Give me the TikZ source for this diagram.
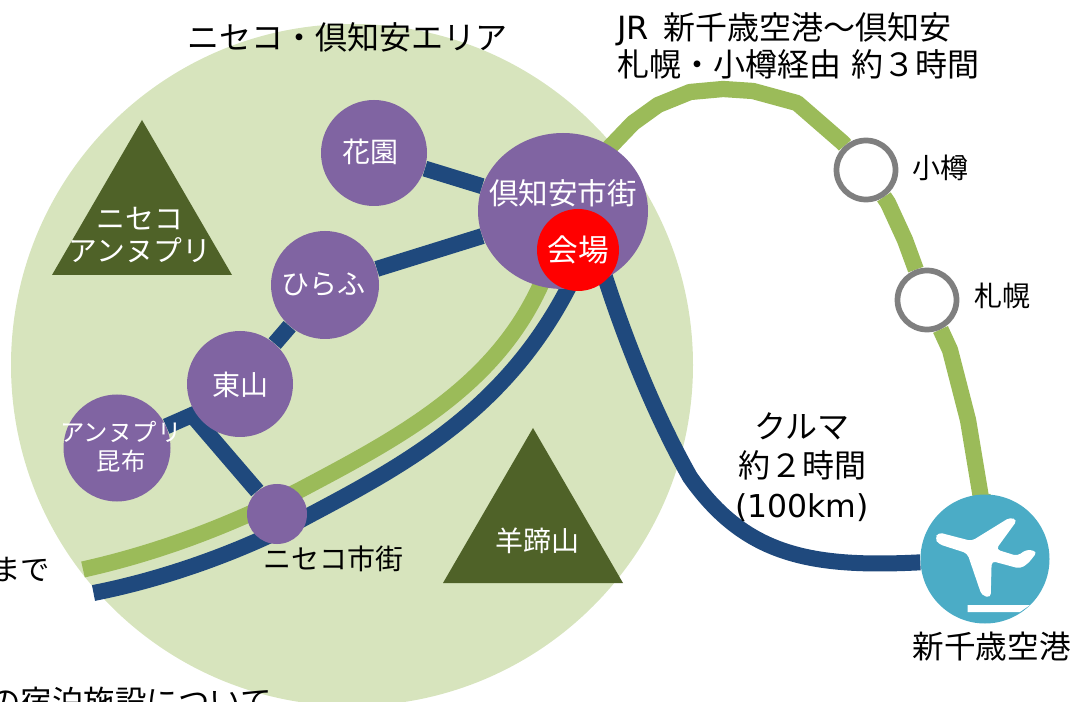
\documentclass[tikz,border=0pt]{standalone}
\usepackage{fontspec}
\usetikzlibrary{shapes.geometric}
\setmainfont{Noto Sans CJK JP}
\newfontfamily\latf{DejaVu Sans}
\newcommand{\fs}[2]{\fontsize{#1}{#2}\selectfont}
\definecolor{areagreen}{HTML}{D7E4BD}
\definecolor{railgreen}{HTML}{9BBB59}
\definecolor{roadblue}{HTML}{1F497D}
\definecolor{townpurple}{HTML}{8064A2}
\definecolor{mountgreen}{HTML}{4F6228}
\definecolor{airblue}{HTML}{4BACC6}
\definecolor{stationgray}{HTML}{7F7F7F}
\pgfdeclarelayer{backl}
\pgfdeclarelayer{linesl}
\pgfsetlayers{backl,linesl,main}
\tikzset{
  town/.style={circle,fill=townpurple,inner sep=0pt,minimum size=#1*0.75pt},
  townlabel/.style={text=white,inner sep=0pt,align=center,font=\fs{21}{26}},
  venue/.style={circle,fill=red,text=white,inner sep=0pt,minimum size=82*0.75pt,font=\fs{23}{27}},
  station/.style={circle,draw=stationgray,line width=4.3pt,fill=white,inner sep=0pt,minimum size=59*0.75pt},
  rail/.style={draw=railgreen,line width=12.2pt,line join=round},
  road/.style={draw=roadblue,line width=12pt},
  label/.style={text=black,inner sep=0pt,align=center,font=\fs{21}{26}},
  mount/.style={fill=mountgreen,draw=none},
  mtext/.style={text=white,inner sep=0pt,align=center,font=\fs{21.6}{24.5}},
}
\begin{document}
\begin{tikzpicture}[x=0.75pt,y=-0.75pt]
\useasboundingbox (0,0) rectangle (1072,702);
\begin{pgfonlayer}{backl}
\clip (0,0) rectangle (1072,702);
\fill[areagreen] (352,365) circle[radius=341*0.75pt];
\end{pgfonlayer}
% mountains
\fill[mount] (142,120) -- (232,275) -- (52,275) -- cycle;
\fill[mount] (533,428) -- (623,583) -- (443,583) -- cycle;
\node[mtext] (mtA) at (140,235) {ニセコ\\アンヌプリ};
\node[mtext,font=\fs{21}{26}] (mtY) at (537,541) {羊蹄山};
% towns
\node[ellipse,fill=townpurple,inner sep=0pt,minimum width=170*0.75pt,minimum height=156*0.75pt] (kutchan) at (563,211) {};
\node[townlabel,font=\fs{22.2}{26}] (kutchant) at (563,193) {倶知安市街};
\node[venue] (venue) at (578,250) {会場};
\node[town=106] (hanazono) at (374,153) {};
\node[townlabel] (hanazonot) at (370,152) {花園};
\node[town=108] (hirafu) at (325,285) {};
\node[townlabel] (hirafut) at (323,284) {ひらふ};
\node[town=106] (higashiyama) at (240,384) {};
\node[townlabel] (higashiyamat) at (240,385) {東山};
\node[town=107] (konbu) at (117,448) {};
\node[townlabel,font=\fs{18.3}{22}] (konbut) at (121,447) {アンヌプリ\\昆布};
\node[town=60] (niseko) at (277,514) {};
\node[station] (otaru) at (866,170) {};
\node[station] (sapporo) at (927,300) {};
\node[circle,fill=airblue,inner sep=0pt,minimum size=129*0.75pt] (airport) at (985,559) {};
% airplane
\begin{scope}[shift={(880,470)},x=0.25pt,y=-0.25pt]
\fill[white,rounded corners=3pt] (165,205) -- (175,187) -- (275,213) -- (390,142) -- (412,150) -- (348,238) -- (412,258) -- (440,238) -- (472,245) -- (445,280) -- (420,296) -- (335,273) -- (332,383) -- (305,376) -- (262,250) -- (175,222) -- cycle;
\fill[white] (263,405) -- (450,405) -- (420,426) -- (263,426) -- cycle;
\end{scope}
% connectors
\begin{pgfonlayer}{linesl}
\coordinate (railend) at (83,569.5);
\coordinate (roadend) at (93.5,593);
\coordinate (railin) at (545,275);
\coordinate (roadin) at (578,268);
\coordinate (railmid) at (300,490);
\coordinate (roadmid) at (310,515);
\coordinate (venueroad) at (595,245);
\coordinate (roadbend) at (690,477);
\coordinate (junction) at (192,415);
\draw[road] (hanazono) -- (kutchan);
\draw[road] (hirafu) -- (kutchan);
\draw[road] (hirafu) -- (higashiyama);
\draw[road] (konbu) -- (junction) -- (niseko);
\draw[rail] (railend) .. controls (170,550) and (240,520) .. (railmid) .. controls (400,437) and (500,385) .. (railin);
\draw[road] (roadend) .. controls (170,578) and (250,548) .. (roadmid) .. controls (410,462) and (515,405) .. (roadin);
\draw[road] (venueroad) .. controls (622,335) and (655,415) .. (roadbend) .. controls (745,555) and (810,568) .. (airport);
\draw[rail] (kutchan) -- (610,147) -- (633,123) -- (658,105) -- (690,92) -- (723,89) -- (753,91) -- (797,103) -- (843,143) -- (otaru) -- (888,203) -- (905,240) -- (sapporo) -- (950,350) -- (968,420) -- (983,510) -- (airport);
\end{pgfonlayer}
% labels
\node[label,font=\fs{24}{30},anchor=west] (title) at (187,37) {ニセコ・倶知安エリア};
\node[label,font=\fs{24}{28},anchor=north west,align=left] (jr) at (617,12) {{\latf JR }\hspace{3.5pt}新千歳空港～倶知安\\札幌・小樽経由{\latf\ }約３時間};
\node[label,anchor=west] (lotaru) at (912,168) {小樽};
\node[label,anchor=west] (lsapporo) at (974,296) {札幌};
\node[label,font=\fs{24}{29.6}] (car) at (802,467) {クルマ\\約２時間\\{\latf\fs{23.6}{29.6}(100km)}};
\node[label,font=\fs{23.7}{28},anchor=east] (lair) at (1071,647) {新千歳空港};
\node[label,anchor=west] (lniseko) at (263,559) {ニセコ市街};
\node[label,font=\fs{22}{26},anchor=east] (lmade) at (50,570) {まで};
\node[label,font=\fs{23.6}{28},anchor=east] (lstay) at (272,702) {の宿泊施設について};
\end{tikzpicture}
\end{document}
